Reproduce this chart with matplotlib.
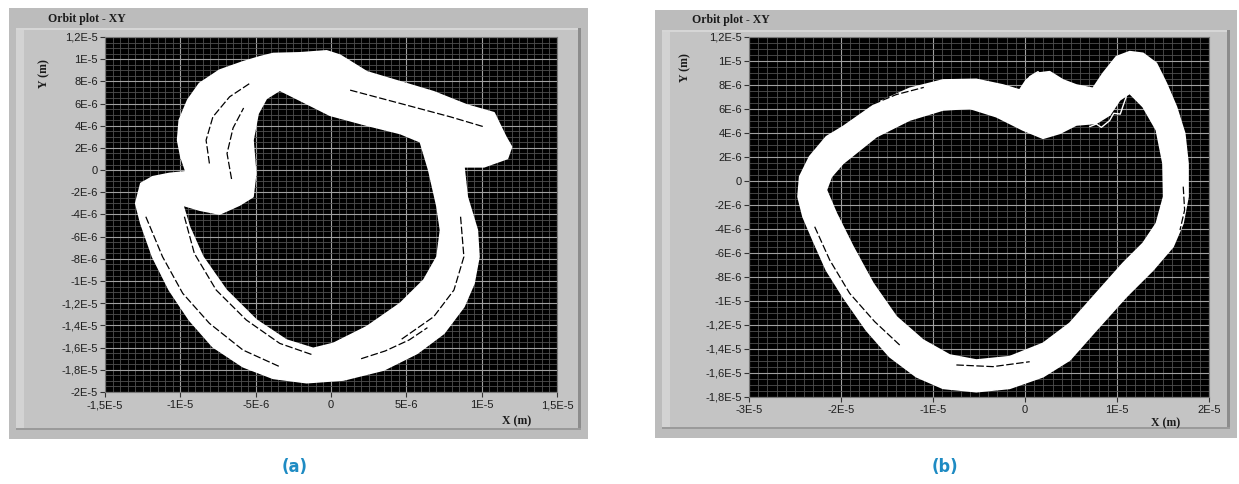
import matplotlib
matplotlib.use('Agg')
import matplotlib.pyplot as plt
import numpy as np
from matplotlib.patches import Rectangle, PathPatch
from matplotlib.path import Path
from matplotlib.ticker import MultipleLocator

W, H = 1239, 484
UM = 1e-6

# -----------------------------------------------------------------------------
# Orbit (a): band edges in micrometres
# -----------------------------------------------------------------------------
A_OUTER_X = [-3.84, -2.07, -0.29, 0.60, 2.38, 4.60, 6.82, 9.04, 10.82, 11.60,
             11.98, 11.71, 10.16, 8.82, 9.04, 9.71, 9.82, 9.49, 8.82, 7.49,
             5.71, 3.49, 0.82, -1.62, -3.84, -5.84, -7.84, -9.40, -10.73, -11.84,
             -12.62, -12.96, -12.62, -11.84, -10.73, -9.62, -9.96, -10.18, -10.07, -9.51,
             -8.73, -7.40, -5.84, -4.73]
A_OUTER_Y = [10.51, 10.57, 10.75, 10.36, 8.86, 7.96, 7.06, 5.86, 5.17, 3.00,
             2.10, 1.05, 0.30, 0.30, -2.40, -5.41, -7.81, -10.21, -12.31, -14.71,
             -16.52, -18.02, -18.92, -19.16, -18.77, -17.72, -15.92, -13.51, -10.81, -7.81,
             -4.80, -3.00, -1.20, -0.60, -0.30, -0.15, 1.20, 2.70, 4.50, 6.31,
             7.81, 9.01, 9.76, 10.21]
A_INNER_X = [-3.40, -2.07, -0.07, 2.38, 4.60, 5.93, 6.49, 7.04, 7.27, 7.04,
             6.16, 4.60, 2.38, 0.16, -1.18, -2.96, -4.96, -6.96, -8.51, -9.40,
             -9.84, -8.73, -7.40, -6.07, -5.18, -5.00, -5.18, -4.84, -4.29]
A_INNER_Y = [7.21, 6.31, 4.95, 4.05, 3.30, 2.55, 0.00, -3.30, -5.41, -7.81,
             -9.91, -12.01, -14.11, -15.62, -16.07, -15.32, -13.51, -10.81, -7.81, -5.11,
             -3.15, -3.60, -3.96, -3.15, -2.40, -0.30, 2.70, 5.10, 6.46]
# dark gaps between the loops
A_GAPS = [
    ([-9.73, -9.07, -7.62, -5.62, -3.40, -1.18], [-4.20, -7.51, -10.81, -13.51, -15.62, -16.67]),
    ([-12.29, -11.18, -9.84, -8.07, -5.84, -3.40], [-4.20, -7.81, -11.11, -13.81, -16.22, -17.72]),
    ([8.60, 8.82, 8.16, 6.82, 4.60], [-4.20, -7.81, -10.81, -13.21, -15.32]),
    ([-8.07, -8.29, -7.84, -6.73, -5.40], [0.60, 2.70, 4.80, 6.61, 7.81]),
    ([1.27, 4.60, 7.93, 10.16], [7.21, 6.01, 4.80, 3.90]),
    ([-6.60, -6.90, -6.50, -5.80], [-0.80, 1.50, 3.80, 5.60]),
    ([2.00, 3.60, 5.20, 6.40], [-17.00, -16.30, -15.30, -14.20]),
]

# -----------------------------------------------------------------------------
# Orbit (b)
# -----------------------------------------------------------------------------
B_OUTER_X = [-19.78, -16.16, -12.54, -8.91, -5.29, -2.39, -0.58, 0.14, 1.23, 2.68,
             4.13, 5.58, 7.39, 8.48, 9.93, 11.38, 12.83, 14.28, 15.36, 16.45,
             17.36, 17.72, 17.72, 17.17, 16.09, 13.91, 11.01, 7.75, 4.86, 1.96,
             -1.67, -5.29, -8.91, -11.81, -14.71, -17.25, -19.78, -21.59, -23.04, -24.13,
             -24.67, -24.49, -23.41, -21.59]
B_OUTER_Y = [4.53, 6.47, 7.72, 8.42, 8.47, 8.00, 7.58, 8.42, 8.97, 9.11,
             8.42, 8.00, 7.72, 8.97, 10.36, 10.78, 10.64, 9.81, 8.14, 6.19,
             3.97, 1.47, -1.31, -3.53, -5.47, -7.42, -9.64, -12.42, -14.92, -16.31,
             -17.28, -17.56, -17.28, -16.31, -14.64, -12.42, -9.64, -7.42, -4.92, -2.97,
             -1.31, 0.36, 2.03, 3.69]
B_INNER_X = [-19.78, -16.16, -12.54, -8.91, -6.01, -3.12, -0.22, 1.96, 3.77, 5.58,
             7.75, 9.20, 10.29, 11.38, 12.83, 14.28, 15.00, 15.07, 14.28, 12.83,
             10.65, 7.75, 4.86, 1.96, -1.67, -5.29, -8.19, -11.09, -13.99, -16.52,
             -18.70, -20.51, -21.59, -21.05]
B_INNER_Y = [1.47, 3.69, 5.08, 5.92, 6.06, 5.36, 4.25, 3.56, 3.97, 4.67,
             4.81, 5.50, 6.75, 7.31, 6.19, 4.25, 1.47, -1.31, -3.53, -5.19,
             -6.86, -9.36, -11.86, -13.53, -14.64, -14.92, -14.50, -13.25, -11.31, -8.53,
             -5.47, -2.69, -0.75, 0.36]
B_GAPS = [
    ([-22.86, -21.23, -19.06, -16.34, -13.62], [-3.81, -6.58, -9.36, -11.72, -13.67]),
    ([-7.46, -3.48, 0.51], [-15.33, -15.47, -15.06]),
    ([17.20, 17.35, 16.85], [-0.47, -2.42, -4.08]),
    ([-17.50, -14.00, -11.00], [6.10, 7.20, 7.80]),
]
# loose strands at the top of the band
B_STRANDS = [
    ([-0.04, 0.51, 1.41, 1.96, 1.23, 2.14, 3.04], [7.86, 8.69, 9.11, 8.69, 8.14, 8.42, 8.00]),
    ([7.03, 7.75, 8.30, 9.20, 9.64, 10.36, 10.65, 11.01], [4.53, 4.75, 4.47, 5.03, 5.64, 5.58, 6.25, 7.03]),
]

# -----------------------------------------------------------------------------
# Axis ticks
# -----------------------------------------------------------------------------
A_XTICKS = [-15, -10, -5, 0, 5, 10, 15]
A_XLABELS = ['-1,5E-5', '-1E-5', '-5E-6', '0', '5E-6', '1E-5', '1,5E-5']
A_YTICKS = [-20, -18, -16, -14, -12, -10, -8, -6, -4, -2, 0, 2, 4, 6, 8, 10, 12]
A_YLABELS = ['-2E-5', '-1,8E-5', '-1,6E-5', '-1,4E-5', '-1,2E-5', '-1E-5', '-8E-6',
             '-6E-6', '-4E-6', '-2E-6', '0', '2E-6', '4E-6', '6E-6', '8E-6', '1E-5', '1,2E-5']
B_XTICKS = [-30, -20, -10, 0, 10, 20]
B_XLABELS = ['-3E-5', '-2E-5', '-1E-5', '0', '1E-5', '2E-5']
B_YTICKS = [-18, -16, -14, -12, -10, -8, -6, -4, -2, 0, 2, 4, 6, 8, 10, 12]
B_YLABELS = ['-1,8E-5', '-1,6E-5', '-1,4E-5', '-1,2E-5', '-1E-5', '-8E-6', '-6E-6',
             '-4E-6', '-2E-6', '0', '2E-6', '4E-6', '6E-6', '8E-6', '1E-5', '1,2E-5']


def fx(px):
    return px / W


def fy(py):
    return 1 - py / H


def rect(fig, x0, y0, x1, y1, color):
    fig.add_artist(Rectangle((fx(x0), fy(y1)), (x1 - x0) / W, (y1 - y0) / H,
                             transform=fig.transFigure, facecolor=color,
                             edgecolor='none', zorder=0))


def draw_panel(fig, x0, y0, x1, y1):
    rect(fig, x0, y0, x1, y1, '#bcbcbc')
    # raised inner frame
    rect(fig, x0 + 7, y0 + 20, x1 - 7, y1 - 9, '#c4c4c4')
    rect(fig, x0 + 7, y0 + 20, x0 + 15, y1 - 9, '#d3d3d3')
    rect(fig, x0 + 7, y0 + 20, x1 - 7, y0 + 22, '#d6d6d6')
    rect(fig, x1 - 10, y0 + 20, x1 - 7, y1 - 9, '#8c8c8c')
    rect(fig, x0 + 7, y1 - 11, x1 - 7, y1 - 9, '#9a9a9a')


def signed_area(p):
    return 0.5 * np.sum(p[:, 0] * np.roll(p[:, 1], -1) - np.roll(p[:, 0], -1) * p[:, 1])


def draw_band(ax, ox, oy, ix, iy):
    outer = np.column_stack([ox, oy]) * UM
    inner = np.column_stack([ix, iy]) * UM
    if np.sign(signed_area(outer)) == np.sign(signed_area(inner)):
        inner = inner[::-1]
    verts = np.vstack([outer, outer[:1], inner, inner[:1]])
    codes = ([Path.MOVETO] + [Path.LINETO] * (len(outer) - 1) + [Path.CLOSEPOLY]
             + [Path.MOVETO] + [Path.LINETO] * (len(inner) - 1) + [Path.CLOSEPOLY])
    ax.add_patch(PathPatch(Path(verts, codes), facecolor='white', edgecolor='white',
                           linewidth=1.2, joinstyle='round', zorder=3))


def setup_axes(fig, box, xlim, ylim, xt, xl, yt, yl, xminor, yminor):
    left, top, right, bottom = box
    ax = fig.add_axes([fx(left), fy(bottom), (right - left) / W, (bottom - top) / H])
    ax.set_facecolor('black')
    ax.set_xlim(xlim[0] * UM, xlim[1] * UM)
    ax.set_ylim(ylim[0] * UM, ylim[1] * UM)
    ax.set_xticks([v * UM for v in xt])
    ax.set_xticklabels(xl)
    ax.set_yticks([v * UM for v in yt])
    ax.set_yticklabels(yl)
    ax.xaxis.set_minor_locator(MultipleLocator(xminor * UM))
    ax.yaxis.set_minor_locator(MultipleLocator(yminor * UM))
    ax.set_axisbelow(True)
    ax.grid(which='minor', color='#4f4f4f', linewidth=0.6)
    ax.grid(which='major', color='#a0a0a0', linewidth=0.8)
    ax.tick_params(which='minor', length=0)
    ax.tick_params(which='major', length=3.5, width=0.8, color='#333333',
                   labelsize=8, labelcolor='#1e1e1e')
    ax.tick_params(axis='y', pad=1.5)
    ax.tick_params(axis='x', pad=2.5)
    for lab in ax.get_xticklabels() + ax.get_yticklabels():
        lab.set_fontfamily('Liberation Sans')
    for s in ax.spines.values():
        s.set_color('#7a7a7a')
        s.set_linewidth(0.8)
    return ax


def draw_lines(ax, lines, color, lw, ls):
    for lx, ly in lines:
        ax.plot(np.array(lx) * UM, np.array(ly) * UM, color=color, lw=lw, ls=ls,
                solid_capstyle='round', zorder=4)


fig = plt.figure(figsize=(W / 100, H / 100), dpi=100)
fig.patch.set_facecolor('white')

draw_panel(fig, 9, 8, 588, 439)
draw_panel(fig, 655, 10, 1237, 438)

serif = dict(family='Liberation Serif', weight='bold', color='#1a1a1a')

# ---- (a)
ax_a = setup_axes(fig, (105, 37, 557, 392), (-15, 15), (-20, 12),
                  A_XTICKS, A_XLABELS, A_YTICKS, A_YLABELS, 0.5, 0.5)
draw_band(ax_a, A_OUTER_X, A_OUTER_Y, A_INNER_X, A_INNER_Y)
draw_lines(ax_a, A_GAPS, 'black', 0.9, (0, (6, 2)))
fig.text(fx(48), fy(19), 'Orbit plot - XY', ha='left', va='center', fontsize=8.5, **serif)
fig.text(fx(44), fy(74), 'Y (m)', ha='center', va='center', rotation=90, fontsize=8.5, **serif)
fig.text(fx(517), fy(421), 'X (m)', ha='center', va='center', fontsize=8.5, **serif)

# ---- (b)
ax_b = setup_axes(fig, (749, 37, 1209, 397), (-30, 20), (-18, 12),
                  B_XTICKS, B_XLABELS, B_YTICKS, B_YLABELS, 1.0, 0.5)
draw_band(ax_b, B_OUTER_X, B_OUTER_Y, B_INNER_X, B_INNER_Y)
draw_lines(ax_b, B_GAPS, 'black', 0.9, (0, (6, 2)))
draw_lines(ax_b, B_STRANDS, 'white', 1.0, '-')
fig.text(fx(692), fy(20), 'Orbit plot - XY', ha='left', va='center', fontsize=8.5, **serif)
fig.text(fx(685), fy(68), 'Y (m)', ha='center', va='center', rotation=90, fontsize=8.5, **serif)
fig.text(fx(1166), fy(423), 'X (m)', ha='center', va='center', fontsize=8.5, **serif)

# ---- captions
cap = dict(family=['Liberation Sans Narrow', 'DejaVu Sans'], stretch='condensed',
           weight='bold', color='#1e8bc3', fontsize=13, ha='center', va='center')
fig.text(fx(295), fy(467), '(a)', **cap)
fig.text(fx(945), fy(467), '(b)', **cap)

fig.savefig('out.png', dpi=100, facecolor='white')
